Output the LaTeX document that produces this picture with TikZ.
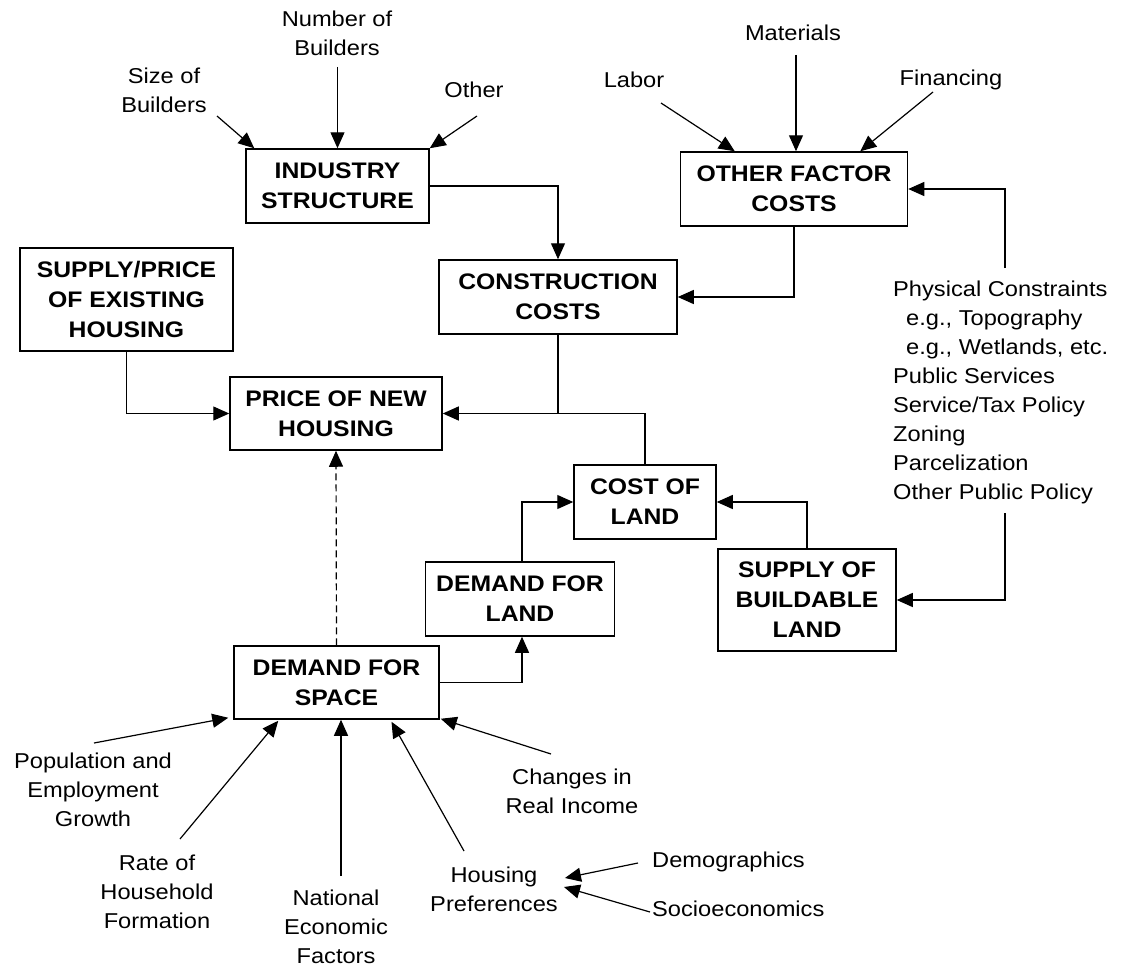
\documentclass[tikz,border=0pt]{standalone}
\usepackage{fontspec}
\setmainfont{Liberation Sans}[FakeStretch=1.1]
\usepackage{tikz}
\usetikzlibrary{arrows.meta, positioning, calc}

\begin{document}
\begin{tikzpicture}[
    x=1pt, y=-1pt,
    every node/.style={font=\fontsize{21.5}{29}\selectfont},
    box/.style={rectangle, draw, line width=1.5pt, align=center, inner sep=0pt,
                font=\fontsize{22.5}{30}\selectfont\bfseries},
    lbl/.style={align=center, inner sep=2pt},
    arr/.style={-{Triangle[length=16pt, width=14pt]}, line width=1.2pt},
    link/.style={line width=1.2pt},
]
    \useasboundingbox[fill=white] (0,0) rectangle (1122,966);

    % ── Boxes ──
    \node[box, minimum width=183pt, minimum height=74pt] (industry) at (337.5,186)
        {INDUSTRY\\STRUCTURE};
    \node[box, minimum width=227pt, minimum height=74pt] (otherfc) at (794,189)
        {OTHER FACTOR\\COSTS};
    \node[box, minimum width=213pt, minimum height=103pt] (existing) at (126.5,299.5)
        {SUPPLY/PRICE\\OF EXISTING\\HOUSING};
    \node[box, minimum width=238pt, minimum height=74pt] (constr) at (558,297)
        {CONSTRUCTION\\COSTS};
    \node[box, minimum width=212pt, minimum height=73pt] (price) at (336,413.5)
        {PRICE OF NEW\\HOUSING};
    \node[box, minimum width=142pt, minimum height=74pt] (cost) at (645,502)
        {COST OF\\LAND};
    \node[box, minimum width=178pt, minimum height=102pt] (buildable) at (807,600)
        {SUPPLY OF\\BUILDABLE\\LAND};
    \node[box, minimum width=189pt, minimum height=74pt] (dland) at (520,599)
        {DEMAND FOR\\LAND};
    \node[box, minimum width=205pt, minimum height=73pt] (space) at (336.5,682.5)
        {DEMAND FOR\\SPACE};

    % ── Labels ──
    \node[lbl] (nbuild) at (337,33.5) {Number of\\Builders};
    \node[lbl] (sbuild) at (164,90.5) {Size of\\Builders};
    \node[lbl] (othr) at (474,90) {Other};
    \node[lbl] (labor) at (634,80) {Labor};
    \node[lbl] (mater) at (793,33) {Materials};
    \node[lbl] (financ) at (951,80) {Financing};
    \node[lbl, align=left, anchor=west, inner sep=0pt] (physical) at (893,392)
        {Physical Constraints\\
         \hspace*{13pt}e.g., Topography\\
         \hspace*{13pt}e.g., Wetlands, etc.\\
         Public Services\\
         Service/Tax Policy\\
         Zoning\\
         Parcelization\\
         Other Public Policy};
    \node[lbl] (popul) at (93,790) {Population and\\Employment\\Growth};
    \node[lbl] (rate) at (157,891.5) {Rate of\\Household\\Formation};
    \node[lbl] (natl) at (336,926.5) {National\\Economic\\Factors};
    \node[lbl] (housing) at (494,889) {Housing\\Preferences};
    \node[lbl] (changes) at (572,791.5) {Changes in\\Real Income};
    \node[lbl, anchor=west] (demog) at (650,862) {Demographics};
    \node[lbl, anchor=west] (socio) at (650,909) {Socioeconomics};

    % ── Arrow tails ──
    \coordinate (nb-t) at (337.5,67);
    \coordinate (sb-t) at (217,116);
    \coordinate (ot-t) at (477,116);
    \coordinate (lab-t) at (661,103);
    \coordinate (mat-t) at (796,55);
    \coordinate (fin-t) at (933,92);
    \coordinate (phys-top) at (1005,268);
    \coordinate (phys-bot) at (1005,513);
    \coordinate (pop-t) at (94,743);
    \coordinate (rate-t) at (180,839);
    \coordinate (nat-t) at (341,876);
    \coordinate (hous-t) at (464,851);
    \coordinate (chg-t) at (551,754);
    \coordinate (dem-t) at (638,863);
    \coordinate (soc-t) at (650,912);

    % ── Industry structure inputs ──
    \draw[arr] (nb-t) -- (industry.north);
    \draw[arr] (sb-t) -- ([xshift=9pt]industry.north west);
    \draw[arr] (ot-t) -- (industry.north east);

    % ── Other factor cost inputs ──
    \draw[arr] (lab-t) -- ([xshift=55pt]otherfc.north west);
    \draw[arr] (mat-t) -- (mat-t |- otherfc.north);
    \draw[arr] (fin-t) -- ([xshift=-48pt]otherfc.north east);
    \draw[arr] (phys-top) |- (otherfc.east);
    \draw[arr] (phys-bot) |- (buildable.east);

    % ── Costs ──
    \draw[arr] (industry.east) -| (constr.north);
    \draw[arr] (otherfc.south) |- (constr.east);
    \coordinate (junc) at (constr.south |- price.east);
    \draw[arr] (constr.south) |- (price.east);
    \draw[link] (cost.north) |- (junc);
    \draw[arr] (existing.south) |- (price.west);

    % ── Land ──
    \draw[arr] ([xshift=2pt]dland.north) |- (cost.west);
    \draw[arr] (buildable.north) |- (cost.east);
    \draw[arr] (space.east) -| ([xshift=2pt]dland.south);
    \draw[arr, dash pattern=on 7pt off 4pt] (space.north) -- (price.south);

    % ── Demand for space inputs ──
    \draw[arr] (pop-t) -- ([xshift=-5pt, yshift=2pt]space.south west);
    \draw[arr] (rate-t) -- ([xshift=45pt, yshift=-1pt]space.south west);
    \draw[arr] (nat-t) -- (nat-t |- space.south);
    \draw[arr] (hous-t) -- ([xshift=55pt, yshift=-2pt]space.south);
    \draw[arr] (chg-t) -- ([xshift=1pt, yshift=1pt]space.south east);
    \draw[arr] (dem-t) -- ([xshift=5pt, yshift=11pt]housing.east);
    \draw[arr] (soc-t) -- ([xshift=4pt, yshift=2pt]housing.east);

\end{tikzpicture}
\end{document}
